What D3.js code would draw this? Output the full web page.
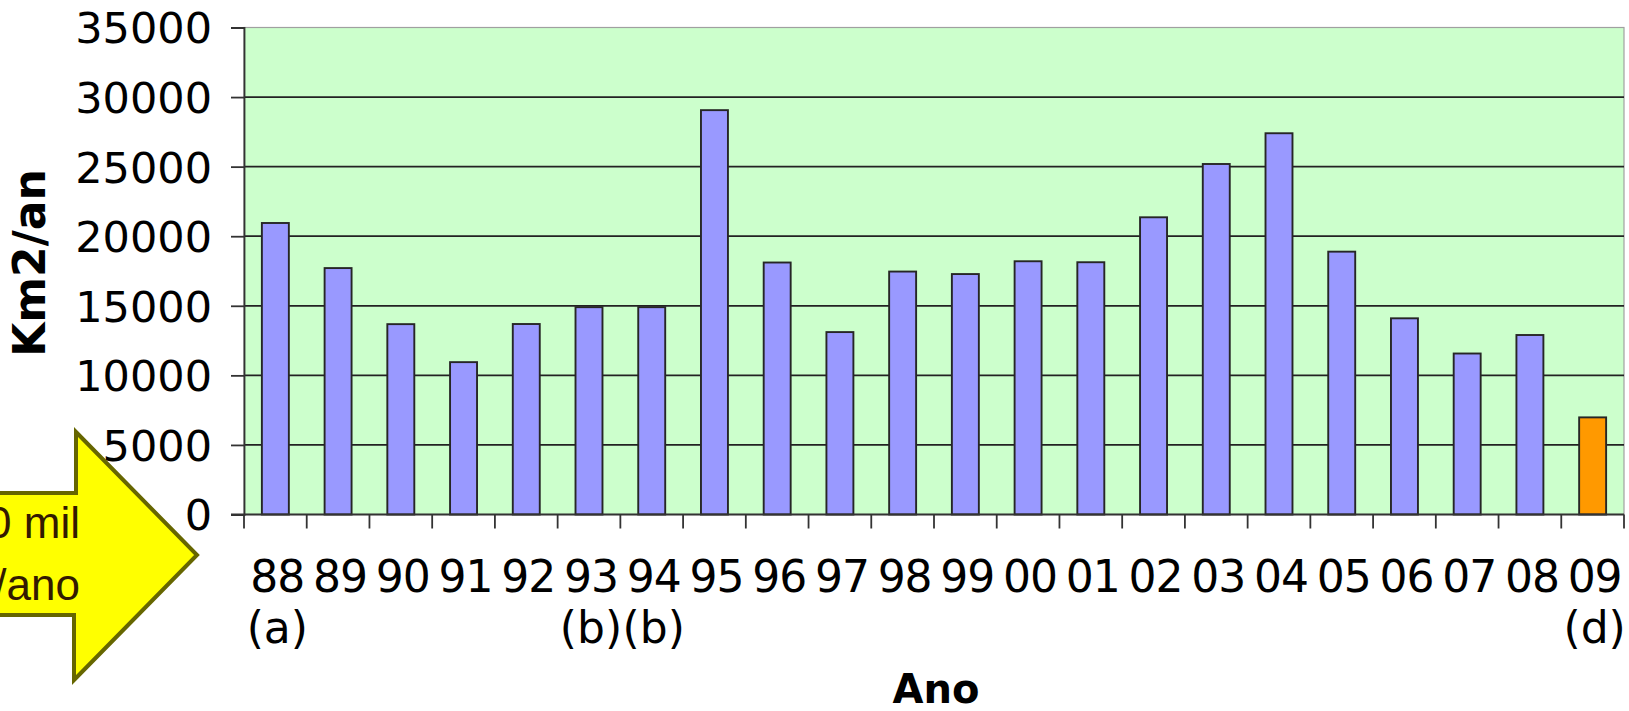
<!DOCTYPE html>
<html>
<head>
<meta charset="utf-8">
<script src="https://cdn.jsdelivr.net/npm/d3@7"></script>
<style>
  html, body { margin: 0; padding: 0; background: #fff; }
  svg { display: block; }
</style>
</head>
<body>
<svg id="chart" width="1629" height="711"></svg>
<script>
// ---- data ----
const years   = ["88","89","90","91","92","93","94","95","96","97","98","99","00","01","02","03","04","05","06","07","08","09"];
const notes   = ["(a)","","","","","(b)","(b)","","","","","","","","","","","","","","","(d)"];
const values  = [20950,17710,13680,10950,13690,14900,14900,29060,18110,13110,17460,17280,18200,18130,21360,25190,27400,18890,14100,11570,12900,6980];
const highlight = ["09"];
const yTicks  = [0,5000,10000,15000,20000,25000,30000,35000];
const yTitle  = "Km2/an";
const xTitle  = "Ano";
const arrowText = ["30 mil","km²/ano"];

// ---- layout ----
const svg = d3.select("#chart");
const L = 244, R = 1624, T = 27.5, B = 514.5;

const y = d3.scaleLinear().domain([0, 35000]).range([B, T]);
const xb = d3.scaleBand().domain(years).range([L, R]).padding(0);
const x = d3.scaleBand().domain(years).range([L, R]).paddingInner(0.57).paddingOuter(0.285);

// plot background
svg.append("rect").attr("x", L).attr("y", T).attr("width", R - L).attr("height", B - T)
  .attr("fill", "#CCFFCC").attr("stroke", "#a0a0a0").attr("stroke-width", 1.2);

// gridlines
svg.append("g").selectAll("line").data(yTicks.filter(d => d > 0 && d < 35000)).join("line")
  .attr("x1", L).attr("x2", R).attr("y1", d => y(d)).attr("y2", d => y(d))
  .attr("stroke", "#222").attr("stroke-width", 1.7);

// bars
svg.append("g").selectAll("rect").data(years).join("rect")
  .attr("x", (d) => x(d))
  .attr("width", x.bandwidth())
  .attr("y", (d, i) => y(values[i]))
  .attr("height", (d, i) => B - y(values[i]))
  .attr("fill", d => highlight.includes(d) ? "#FF9900" : "#9999FF")
  .attr("stroke", "#262626").attr("stroke-width", 1.9);

// y axis
const yAxis = d3.axisLeft(y).tickValues(yTicks).tickSize(13).tickPadding(19).tickFormat(d3.format("d"));
const gy = svg.append("g").attr("transform", `translate(${L},0)`).call(yAxis);
gy.select(".domain").attr("stroke", "#333").attr("stroke-width", 1.8);
gy.selectAll(".tick line").attr("stroke", "#333").attr("stroke-width", 1.8);
gy.selectAll(".tick text").attr("font-family", "DejaVu Sans").attr("font-size", 43)
  .attr("fill", "#000").attr("dy", "0.36em");

// x axis line and ticks at category boundaries
const gx = svg.append("g");
gx.append("line").attr("x1", L - 13).attr("x2", R).attr("y1", B).attr("y2", B)
  .attr("stroke", "#333").attr("stroke-width", 1.8);
const bounds = years.map(d => xb(d)).concat([R]);
gx.selectAll("line.t").data(bounds).join("line").attr("class", "t")
  .attr("x1", d => d).attr("x2", d => d).attr("y1", B).attr("y2", B + 14)
  .attr("stroke", "#333").attr("stroke-width", 1.8);

// x labels
svg.append("g").selectAll("text").data(years).join("text")
  .attr("x", d => xb(d) + xb.bandwidth() / 2 + 2)
  .attr("y", 592)
  .attr("text-anchor", "middle")
  .attr("font-family", "DejaVu Sans").attr("font-size", 44).attr("letter-spacing", -1)
  .attr("fill", "#000")
  .text(d => d);
svg.append("g").selectAll("text").data(years).join("text")
  .attr("x", d => xb(d) + xb.bandwidth() / 2 + 2)
  .attr("y", 643)
  .attr("text-anchor", "middle")
  .attr("font-family", "DejaVu Sans").attr("font-size", 44)
  .attr("fill", "#000")
  .text((d, i) => notes[i]);

// axis titles
svg.append("text")
  .attr("transform", `translate(45,263) rotate(-90)`)
  .attr("text-anchor", "middle")
  .attr("font-family", "DejaVu Sans").attr("font-weight", "bold").attr("font-size", 44)
  .attr("fill", "#000")
  .text(yTitle);
svg.append("text")
  .attr("x", (L + R) / 2 + 2).attr("y", 703)
  .attr("text-anchor", "middle")
  .attr("font-family", "DejaVu Sans").attr("font-weight", "bold").attr("font-size", 40)
  .attr("fill", "#000")
  .text(xTitle);

// yellow arrow annotation
const arrowPts = [[-20,493],[76,493],[76,432],[197,555],[74,680],[74,615],[-20,615]];
svg.append("path")
  .attr("d", d3.line()(arrowPts) + "Z")
  .attr("fill", "#FFFF00").attr("stroke", "#666600").attr("stroke-width", 4)
  .attr("stroke-linejoin", "miter");
svg.append("g").selectAll("text").data(arrowText).join("text")
  .attr("x", 80).attr("y", (d, i) => 538 + i * 62)
  .attr("text-anchor", "end")
  .attr("font-family", "Liberation Sans").attr("font-size", 44)
  .attr("fill", "#331a00")
  .text(d => d);
</script>
</body>
</html>
